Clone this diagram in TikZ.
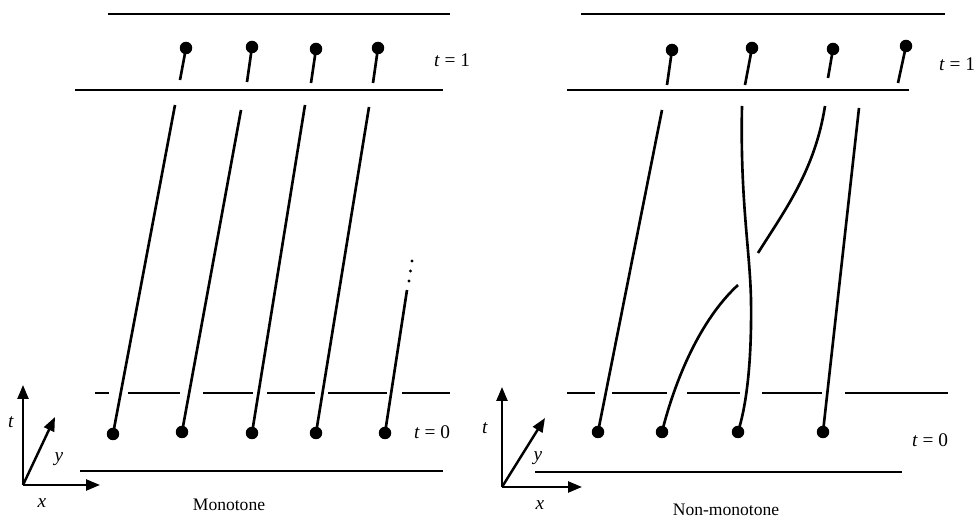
\documentclass[tikz,border=0pt]{standalone}
\usepackage{fontspec}
\setmainfont{Liberation Serif}
\usepackage{tikz}
\usetikzlibrary{arrows.meta}

\begin{document}
\begin{tikzpicture}[
    x=0.02cm, y=-0.02cm,
    font=\fontsize{10}{12}\selectfont,
    dot/.style={circle, fill=black, inner sep=0pt, minimum size=0.25cm},
    world/.style={line width=1.5pt},
    stem/.style={line width=1.5pt},
    rule/.style={line width=1.2pt},
    axis/.style={line width=1.4pt, -{Triangle[length=0.28cm, width=0.22cm]}},
    lbl/.style={inner sep=0pt, font=\fontsize{11}{13}\selectfont}
]
\useasboundingbox (0,0) rectangle (978,519);

% ---------- Monotone ----------
\draw[rule] (108,14) -- (450,14);
\draw[rule] (75,90) -- (443,90);
\draw[rule] (80,471) -- (443,471);
% t = 0 line, broken where the world lines pass
\foreach \a/\b in {95/109, 128/180, 203/253, 267/315, 328/387, 402/450}
    \draw[rule] (\a,393) -- (\b,393);

% particles at t = 1
\node[dot] (mt1) at (186,48) {};
\node[dot] (mt2) at (252,47) {};
\node[dot] (mt3) at (316,49) {};
\node[dot] (mt4) at (378,48) {};
\coordinate (ms1) at (180,80);
\coordinate (ms2) at (247,82);
\coordinate (ms3) at (311,83);
\coordinate (ms4) at (373,83);
\draw[stem] (mt1.center) -- (ms1);
\draw[stem] (mt2.center) -- (ms2);
\draw[stem] (mt3.center) -- (ms3);
\draw[stem] (mt4.center) -- (ms4);

% particles at t = 0
\node[dot] (m1) at (113,434) {};
\node[dot] (m2) at (182,432) {};
\node[dot] (m3) at (252,433) {};
\node[dot] (m4) at (316,433) {};
\node[dot] (m5) at (385,433) {};
\coordinate (mu1) at (175,105);
\coordinate (mu2) at (241,110);
\coordinate (mu3) at (305,105);
\coordinate (mu4) at (369,107);
\coordinate (mu5) at (407,290);
\draw[world] (m1.center) -- (mu1);
\draw[world] (m2.center) -- (mu2);
\draw[world] (m3.center) -- (mu3);
\draw[world] (m4.center) -- (mu4);
\draw[world] (m5.center) -- (mu5);
\foreach \px/\py in {409/281, 410.5/271, 412/261}
    \fill (\px,\py) circle (1.7);

\node[lbl] (mlab1) at (452,60) {\textit{t} = 1};
\node[lbl] (mlab0) at (432,432) {\textit{t} = 0};

% axes
\coordinate (mo) at (23,485);
\coordinate (mtx) at (100,485);
\coordinate (mtt) at (23,385);
\coordinate (mty) at (55,417);
\draw[axis] (mo) -- (mtt);
\draw[axis] (mo) -- (mtx);
\draw[axis] (mo) -- (mty);
\node[lbl] (mlt) at (11,422) {\textit{t}};
\node[lbl] (mly) at (59,459) {\textit{y}};
\node[lbl] (mlx) at (42,503) {\textit{x}};
\node[lbl, font=\fontsize{10}{12}\selectfont] (mname) at (229,505) {Monotone};

% ---------- Non-monotone ----------
\draw[rule] (581,14) -- (945,14);
\draw[rule] (567,90) -- (909,90);
\draw[rule] (535,472) -- (902,472);
\foreach \a/\b in {567/595, 612/667, 687/740, 762/822, 845/948}
    \draw[rule] (\a,393) -- (\b,393);

% particles at t = 1
\node[dot] (nt1) at (672,50) {};
\node[dot] (nt2) at (752,48) {};
\node[dot] (nt3) at (833,49) {};
\node[dot] (nt4) at (906,46) {};
\coordinate (ns1) at (667,85);
\coordinate (ns2) at (745,85);
\coordinate (ns3) at (828,78);
\coordinate (ns4) at (898,83);
\draw[stem] (nt1.center) -- (ns1);
\draw[stem] (nt2.center) -- (ns2);
\draw[stem] (nt3.center) -- (ns3);
\draw[stem] (nt4.center) -- (ns4);

% particles at t = 0
\node[dot] (n1) at (598,432) {};
\node[dot] (n2) at (662,432) {};
\node[dot] (n3) at (738,432) {};
\node[dot] (n4) at (823,432) {};
\coordinate (nu1) at (662,110);
\coordinate (nu3) at (742,106);
\coordinate (nu4) at (859,108);
% crossing pair
\coordinate (nc1) at (738,285);
\coordinate (nc2) at (758,253);
\coordinate (nu2) at (825,106);
\coordinate (nm3) at (751,300);
\draw[world] (n1.center) -- (nu1);
\draw[world] (n4.center) -- (nu4);
\draw[world] (n3.center) .. controls (745,410) and (752,370) .. (nm3)
    .. controls (750,250) and (740,200) .. (nu3);
\draw[world] (n2.center) .. controls (675,380) and (700,320) .. (nc1);
\draw[world] (nc2) .. controls (785,210) and (815,170) .. (nu2);

\node[lbl] (nlab1) at (957,64) {\textit{t} = 1};
\node[lbl] (nlab0) at (930,440) {\textit{t} = 0};

% axes
\coordinate (no) at (502,487);
\coordinate (ntx) at (582,487);
\coordinate (ntt) at (502,387);
\coordinate (nty) at (545,418);
\draw[axis] (no) -- (ntt);
\draw[axis] (no) -- (ntx);
\draw[axis] (no) -- (nty);
\node[lbl] (nlt) at (485,428) {\textit{t}};
\node[lbl] (nly) at (538,458) {\textit{y}};
\node[lbl] (nlx) at (540,505) {\textit{x}};
\node[lbl, font=\fontsize{10}{12}\selectfont] (nname) at (726,510) {Non-monotone};
\end{tikzpicture}
\end{document}
